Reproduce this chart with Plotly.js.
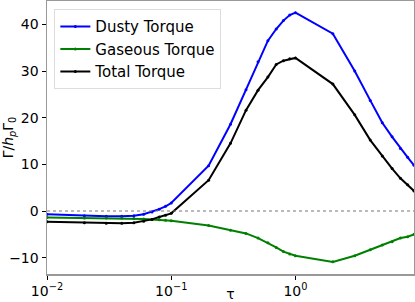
<!DOCTYPE html>
<html>
<head>
<meta charset="utf-8">
<script src="https://cdn.plot.ly/plotly-3.0.1.min.js"></script>
<style>html,body{margin:0;padding:0;background:#fff;}#chart{width:415px;height:302px;}</style>
</head>
<body>
<div id="chart"></div>
<script>
const tau = [0.01,0.02,0.03,0.04,0.05,0.06,0.07,0.08,0.09,
             0.1,0.2,0.3,0.4,0.5,0.6,0.7,0.8,0.9,
             1,2,3,4,5,6,7,8,9];
const dusty = [-0.7,-1.0,-1.1,-1.1,-1.0,-0.7,-0.2,0.4,1.0,
               1.7,9.7,18.6,26.0,32.0,36.5,39.0,40.8,42.0,
               42.5,38.0,30.0,23.7,18.9,15.9,13.4,11.5,9.8];
const gaseous = [-1.4,-1.5,-1.5,-1.5,-1.6,-1.7,-1.8,-1.9,-2.0,
                 -2.1,-3.1,-4.1,-4.8,-5.8,-6.8,-7.8,-8.7,-9.2,
                 -9.6,-10.9,-9.6,-8.3,-7.3,-6.6,-5.8,-5.5,-5.0];
const total = [-2.3,-2.5,-2.6,-2.6,-2.5,-2.2,-1.8,-1.3,-0.9,
               -0.5,6.6,14.5,21.6,25.9,28.7,31.4,32.2,32.6,
               32.8,27.2,20.6,15.2,11.8,9.1,7.0,5.6,4.3];
const names = ['Dusty Torque','Gaseous Torque','Total Torque'];
const colors = ['#0000ff','#008000','#000000'];
const series = [dusty, gaseous, total];
const xTickVals = [0.01,0.1,1];
const xTickText = ['10<sup>−2</sup>','10<sup>−1</sup>','10<sup>0</sup>'];
const yTickVals = [-10,0,10,20,30,40];

const traces = series.map((s,i)=>({
  x: tau, y: s, name: names[i], type:'scatter', mode:'lines+markers',
  line:{color:colors[i], width:2}, marker:{color:colors[i], size:3}
}));
traces.push({x:[0.01,9], y:[0,0], mode:'lines', showlegend:false,
  line:{color:'#777', width:1, dash:'dot'}, hoverinfo:'skip'});

const font = {family:'DejaVu Sans, sans-serif', size:14, color:'#000'};
const layout = {
  width:415, height:302,
  margin:{l:47, r:1, t:1, b:28},
  paper_bgcolor:'#fff', plot_bgcolor:'#fff',
  font: font,
  showlegend:true,
  legend:{x:0.02, y:0.97, xanchor:'left', yanchor:'top',
    bgcolor:'rgba(255,255,255,0.8)', bordercolor:'#ddd', borderwidth:1,
    font:{family:'DejaVu Sans, sans-serif', size:15, color:'#000'},
    traceorder:'normal', tracegroupgap:0},
  xaxis:{type:'log', range:[Math.log10(0.01), Math.log10(9)],
    tickvals:xTickVals, ticktext:xTickText, ticks:'outside', ticklen:4,
    tickcolor:'#000', showgrid:false, zeroline:false,
    tickfont:{size:14},
    showline:true, linecolor:'#999', linewidth:1.5, mirror:true,
    title:{text:'τ', font:{size:14}, standoff:0}},
  yaxis:{range:[-13.5,45], tickvals:yTickVals,
    ticktext:['−10','0','10','20','30','40'],
    ticks:'outside', ticklen:4, tickcolor:'#000',
    tickfont:{size:14},
    showgrid:false, zeroline:false,
    showline:true, linecolor:'#999', linewidth:1.5, mirror:true,
    title:{text:'Γ/<i>h</i><sub><i>p</i></sub>Γ<sub>0</sub>', font:{size:14}, standoff:0}}
};
Plotly.newPlot('chart', traces, layout, {staticPlot:true, displayModeBar:false});
</script>
</body>
</html>
